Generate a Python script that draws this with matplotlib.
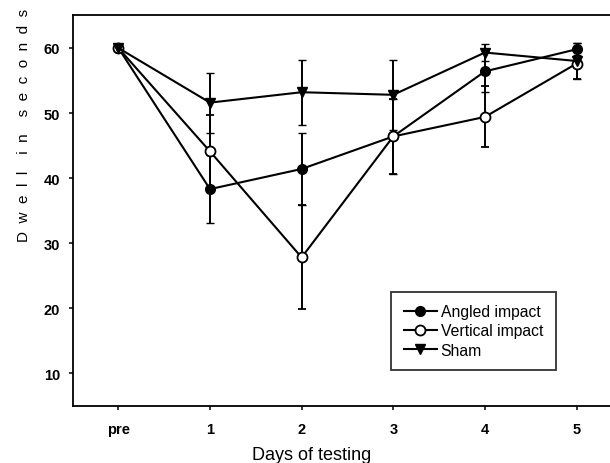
import matplotlib
matplotlib.use("Agg")
import matplotlib.pyplot as plt
from matplotlib.lines import Line2D
import numpy as np

plt.rcParams['font.family'] = ['Liberation Sans', 'DejaVu Sans']

days = ["pre", "1", "2", "3", "4", "5"]

angled = [60.0, 38.3, 41.4, 46.4, 56.4, 59.8]
angled_err = [0.0, 5.2, 5.6, 5.8, 3.1, 0.9]

vertical = [60.0, 44.1, 27.8, 46.4, 49.4, 57.6]
vertical_err = [0.0, 5.6, 8.0, 5.8, 4.7, 2.4]

sham = [60.0, 51.6, 53.2, 52.8, 59.3, 58.0]
sham_err = [0.0, 4.6, 5.0, 5.4, 1.3, 2.7]

yticks = [10, 20, 30, 40, 50, 60]
series_names = ["Angled impact", "Vertical impact", "Sham"]

fig = plt.figure(figsize=(6.10, 4.64), dpi=100)
# the frame runs on past the right edge of the figure
ax = fig.add_axes([0.1189, 0.1235, 0.9164, 0.841])

x = np.arange(len(days))
common = dict(color="black", lw=1.5, elinewidth=1.4, capsize=3, capthick=1.4)

styles = [
    dict(marker="o", ms=7, mfc="black", mec="black", mew=1.0),
    dict(marker="o", ms=7.2, mfc="white", mec="black", mew=1.3),
    dict(marker="v", ms=7, mfc="black", mec="black", mew=1.0),
]

for vals, errs, st in zip([angled, vertical, sham],
                          [angled_err, vertical_err, sham_err], styles):
    ax.errorbar(x, vals, yerr=errs, fmt="-", **st, **common)

ax.set_xlim(-0.5, 5.6)
ax.set_ylim(5, 65)
ax.set_xticks(x)
ax.set_xticklabels(days, fontweight="bold", fontsize=10.5)
ax.set_yticks(yticks)
ax.set_yticklabels([str(v) for v in yticks], fontweight="bold", fontsize=10.5)
ax.tick_params(direction="out", length=3, width=1.1)
ax.tick_params(axis="x", pad=9)
ax.tick_params(axis="y", pad=6)

for s in ax.spines.values():
    s.set_linewidth(1.3)

ax.set_xlabel("Days of testing", fontsize=13)
ax.xaxis.set_label_coords(0.428, -0.103)
ax.set_ylabel("D  w  e  l  l    i  n    s  e  c  o  n  d  s", fontsize=11)
ax.yaxis.set_label_coords(-0.074, 0.722)

handles = [Line2D([], [], color="black", lw=1.5, **st) for st in styles]
leg = ax.legend(handles, series_names, loc="lower left",
                bbox_to_anchor=(0.570, 0.091),
                fontsize=11.3, frameon=True, fancybox=False, edgecolor="black",
                handlelength=2.1, handletextpad=0.25, borderpad=0.8,
                labelspacing=0.27, borderaxespad=0)
leg.get_frame().set_linewidth(1.3)

fig.savefig("out.png", dpi=100)
